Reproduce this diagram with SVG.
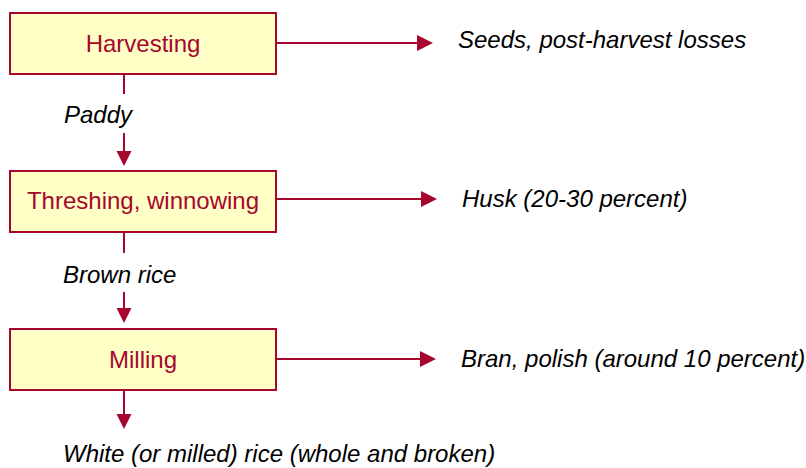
<svg xmlns="http://www.w3.org/2000/svg" width="806" height="468" viewBox="0 0 806 468">
<style>
.box{fill:#FFFFC6;stroke:#A6062E;stroke-width:2}
.bt{font-family:"Liberation Sans",Arial,sans-serif;font-size:24px;fill:#A6062E;text-anchor:middle}
.lt{font-family:"Liberation Sans",Arial,sans-serif;font-size:24px;font-style:italic;fill:#000}
.ln{stroke:#A6062E;stroke-width:2;fill:none}
.ah{fill:#A6062E}
</style>
<rect width="806" height="468" fill="#fff"/>
<g id="harvesting"><rect class="box" x="10" y="13" width="266" height="61"/><text class="bt" x="143" y="52">Harvesting</text></g>
<g id="threshing"><rect class="box" x="10" y="171" width="266" height="61"/><text class="bt" x="143" y="209">Threshing, winnowing</text></g>
<g id="milling"><rect class="box" x="10" y="329" width="266" height="61"/><text class="bt" x="143" y="368">Milling</text></g>
<g id="seeds"><text class="lt" x="458" y="48">Seeds, post-harvest losses</text></g>
<g id="husk"><text class="lt" x="462" y="207">Husk (20-30 percent)</text></g>
<g id="bran"><text class="lt" x="461" y="367">Bran, polish (around 10 percent)</text></g>
<g id="white"><text class="lt" x="63" y="462">White (or milled) rice (whole and broken)</text></g>
<g id="connectors">
<path class="ln" d="M276 43H418"/><polygon class="ah" points="417,35 433,43 417,51"/>
<path class="ln" d="M276 199H422"/><polygon class="ah" points="421,191 437,199 421,207"/>
<path class="ln" d="M276 359H421"/><polygon class="ah" points="420,351 436,359 420,367"/>
<path class="ln" d="M124 74V94"/>
<text class="lt" x="64" y="123">Paddy</text>
<path class="ln" d="M124 133V153"/><polygon class="ah" points="116.5,151 131.5,151 124,166"/>
<path class="ln" d="M124 232V253"/>
<text class="lt" x="63" y="283">Brown rice</text>
<path class="ln" d="M124 292V310"/><polygon class="ah" points="116.5,308 131.5,308 124,323"/>
<path class="ln" d="M124 390V415"/><polygon class="ah" points="116.5,414 131.5,414 124,429"/>
</g>
</svg>
